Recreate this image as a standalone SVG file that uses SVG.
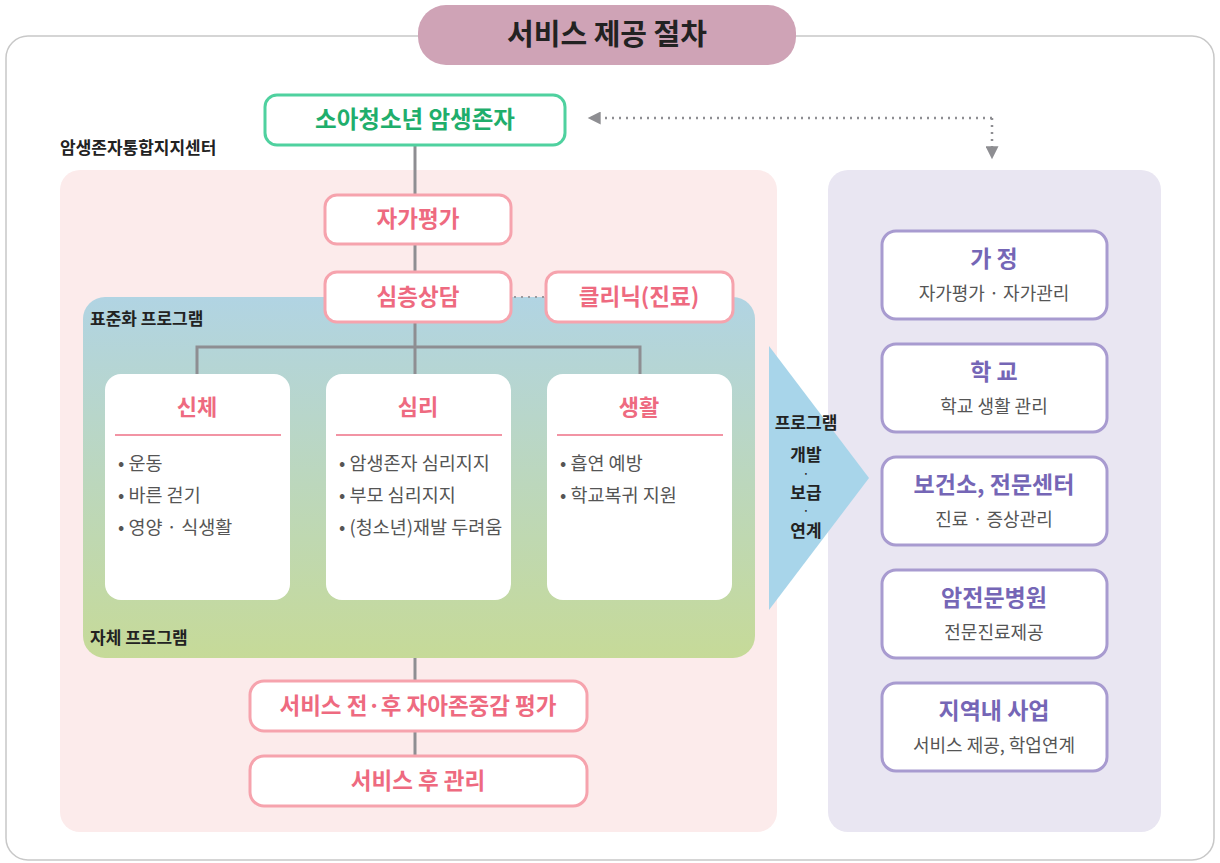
<svg xmlns="http://www.w3.org/2000/svg" width="1220" height="863" viewBox="0 0 1220 863">
<defs>
<linearGradient id="grad" x1="0" y1="0" x2="0" y2="1">
<stop offset="0" stop-color="#b1d4e3"/>
<stop offset="1" stop-color="#c6da98"/>
</linearGradient>
<marker id="ah" viewBox="0 0 10 10" refX="9" refY="5" markerWidth="16" markerHeight="13" orient="auto-start-reverse" markerUnits="userSpaceOnUse">
<path d="M0,0 L10,5 L0,10 z" fill="#8e8e92"/>
</marker>
<style>
text{font-family:"Noto Sans CJK KR","Noto Sans",sans-serif}
.pink{fill:#fff;stroke:#f6a3ad;stroke-width:3}
.pt{fill:#ee6a80;font-weight:700;font-size:22.5px;text-anchor:middle}
.card{fill:#fff}
.ct{fill:#ee6a80;font-weight:700;font-size:22px;text-anchor:middle}
.div{stroke:#ee7086;stroke-width:1.5}
.bul{fill:#555;font-size:18.5px}
.pur{fill:#fff;stroke:#a89bd0;stroke-width:3}
.prt{fill:#7566b6;font-weight:700;font-size:23px;text-anchor:middle}
.prs{fill:#555;font-size:18px;text-anchor:middle}
.lbl{fill:#222;font-weight:700;font-size:17px}
.dot{fill:#222;font-weight:900;font-size:8px;text-anchor:middle}
.ln{stroke:#8e8e92;stroke-width:3;fill:none}
</style>
</defs>
<rect x="6" y="36" width="1208" height="824" rx="22" fill="#fff" stroke="#c8c8c8" stroke-width="1.5"/>
<g id="title">
<rect x="418" y="5" width="378" height="60" rx="28" fill="#cfa3b6"/>
<text x="607" y="45" text-anchor="middle" font-size="29" font-weight="700" fill="#222">서비스 제공 절차</text>
</g>
<g id="center-panel">
<rect x="60" y="170" width="717" height="662" rx="20" fill="#fcebeb"/>
<text class="lbl" x="60" y="154">암생존자통합지지센터</text>
</g>
<g id="partners-panel">
<rect x="828" y="170" width="333" height="662" rx="20" fill="#e9e6f2"/>
</g>
<g id="program-box">
<rect x="83" y="297" width="672" height="361" rx="22" fill="url(#grad)"/>
<text class="lbl" x="90" y="325">표준화 프로그램</text>
<text class="lbl" x="90" y="644">자체 프로그램</text>
</g>
<g id="connectors">
<line class="ln" x1="415" y1="145" x2="415" y2="195"/>
<line class="ln" x1="415" y1="244" x2="415" y2="272"/>
<path class="ln" d="M415,322 V374 M197,374 V347 H640 V374"/>
<line class="ln" x1="415" y1="658" x2="415" y2="681"/>
<line class="ln" x1="415" y1="731" x2="415" y2="756"/>
<line x1="514" y1="297" x2="544" y2="297" stroke="#9a9a9e" stroke-width="2" stroke-dasharray="2,5"/>
<path d="M992,118 H589" fill="none" stroke="#8e8e92" stroke-width="2.5" stroke-dasharray="2,5" marker-end="url(#ah)"/>
<path d="M992,118 V158" fill="none" stroke="#8e8e92" stroke-width="2.5" stroke-dasharray="2,5" marker-end="url(#ah)"/>
</g>
<g id="survivor">
<rect x="265" y="95" width="300" height="50" rx="12" fill="#fff" stroke="#4fd19f" stroke-width="3"/>
<text x="415" y="128" text-anchor="middle" font-size="23.5" font-weight="700" fill="#1fae6c">소아청소년 암생존자</text>
</g>
<g id="self-eval">
<rect class="pink" x="325" y="195" width="186" height="49" rx="12"/>
<text class="pt" x="418" y="227">자가평가</text>
</g>
<g id="counsel">
<rect class="pink" x="325" y="272" width="186" height="50" rx="12"/>
<text class="pt" x="418" y="305">심층상담</text>
</g>
<g id="clinic">
<rect class="pink" x="546" y="272" width="187" height="50" rx="12"/>
<text class="pt" x="639" y="305">클리닉(진료)</text>
</g>
<g id="body">
<rect class="card" x="105" y="374" width="185" height="226" rx="16"/>
<text class="ct" x="197" y="415">신체</text>
<line class="div" x1="115" y1="435" x2="281" y2="435"/>
<text class="bul" x="118" y="470">• 운동</text>
<text class="bul" x="118" y="502">• 바른 걷기</text>
<text class="bul" x="118" y="534">• 영양 · 식생활</text>
</g>
<g id="mind">
<rect class="card" x="326" y="374" width="185" height="226" rx="16"/>
<text class="ct" x="418" y="415">심리</text>
<line class="div" x1="336" y1="435" x2="502" y2="435"/>
<text class="bul" x="339" y="470">• 암생존자 심리지지</text>
<text class="bul" x="339" y="502">• 부모 심리지지</text>
<text class="bul" x="339" y="534">• (청소년)재발 두려움</text>
</g>
<g id="life">
<rect class="card" x="547" y="374" width="185" height="226" rx="16"/>
<text class="ct" x="639" y="415">생활</text>
<line class="div" x1="557" y1="435" x2="723" y2="435"/>
<text class="bul" x="560" y="470">• 흡연 예방</text>
<text class="bul" x="560" y="502">• 학교복귀 지원</text>
</g>
<g id="esteem">
<rect class="pink" x="250" y="681" width="337" height="50" rx="14"/>
<text class="pt" x="418" y="714">서비스 전·후 자아존중감 평가</text>
</g>
<g id="after">
<rect class="pink" x="250" y="756" width="337" height="50" rx="14"/>
<text class="pt" x="418" y="789">서비스 후 관리</text>
</g>
<g id="arrow">
<polygon points="769,346 869,478 769,610" fill="#a8d5ea"/>
<text class="lbl" x="806" y="429" text-anchor="middle">프로그램</text>
<text class="lbl" x="806" y="461" text-anchor="middle">개발</text>
<text class="dot" x="806" y="476.5">·</text>
<text class="lbl" x="806" y="499" text-anchor="middle">보급</text>
<text class="dot" x="806" y="514">·</text>
<text class="lbl" x="806" y="537" text-anchor="middle">연계</text>
</g>
<g id="home">
<rect class="pur" x="882" y="231" width="225" height="88" rx="14"/>
<text class="prt" x="994" y="267">가 정</text>
<text class="prs" x="994" y="300">자가평가 · 자가관리</text>
</g>
<g id="school">
<rect class="pur" x="882" y="344" width="225" height="88" rx="14"/>
<text class="prt" x="994" y="380">학 교</text>
<text class="prs" x="994" y="413">학교 생활 관리</text>
</g>
<g id="health-center">
<rect class="pur" x="882" y="457" width="225" height="88" rx="14"/>
<text class="prt" x="994" y="493">보건소, 전문센터</text>
<text class="prs" x="994" y="526">진료 · 증상관리</text>
</g>
<g id="cancer-hospital">
<rect class="pur" x="882" y="570" width="225" height="88" rx="14"/>
<text class="prt" x="994" y="606">암전문병원</text>
<text class="prs" x="994" y="639">전문진료제공</text>
</g>
<g id="community">
<rect class="pur" x="882" y="683" width="225" height="88" rx="14"/>
<text class="prt" x="994" y="719">지역내 사업</text>
<text class="prs" x="994" y="752">서비스 제공, 학업연계</text>
</g>
</svg>
